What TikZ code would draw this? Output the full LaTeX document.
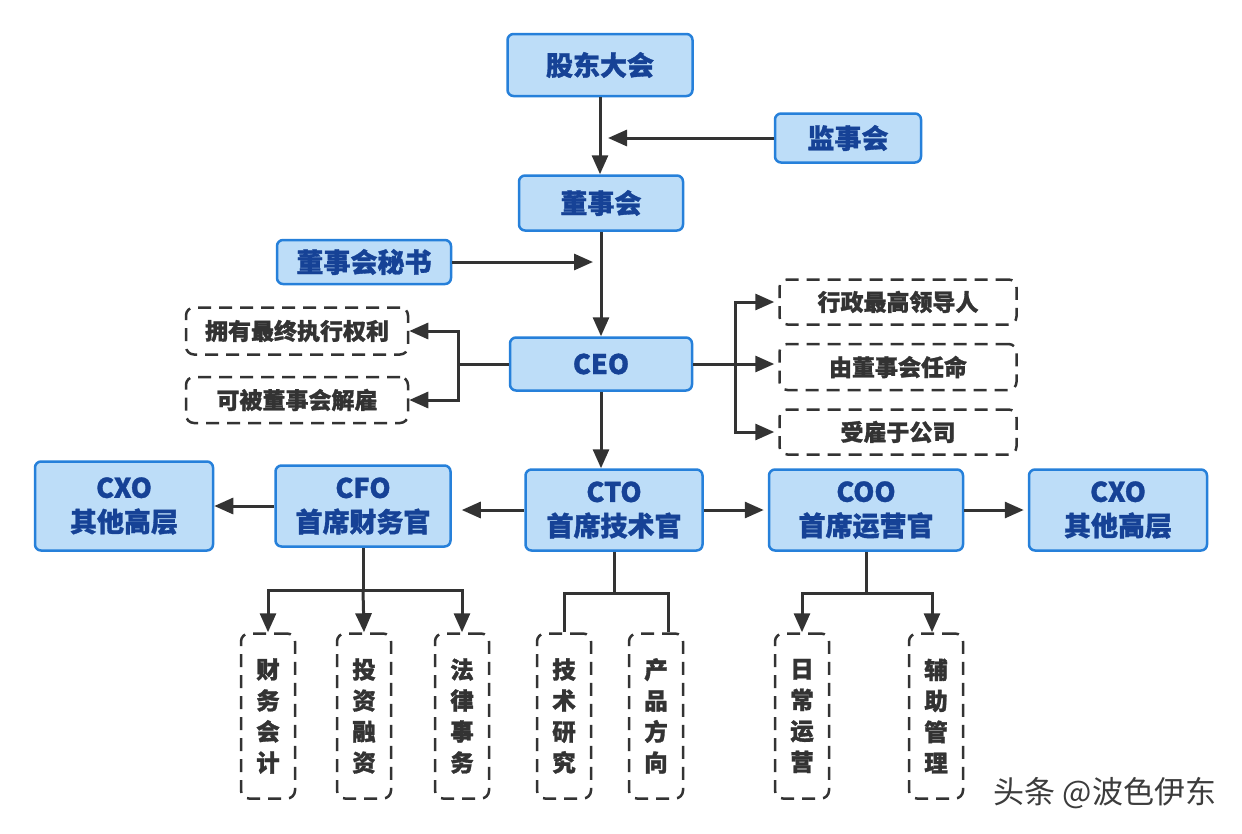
\documentclass[tikz,border=0pt]{standalone}
\usepackage{fontspec}
\setmainfont{Noto Sans CJK SC}[BoldFeatures={FakeBold=1.2}]
\newfontfamily\wmfont{Noto Sans CJK SC}
\usetikzlibrary{arrows.meta}
\definecolor{bfill}{RGB}{189,221,248}
\definecolor{bborder}{RGB}{38,128,218}
\definecolor{btext}{RGB}{22,66,150}
\definecolor{dgray}{RGB}{51,51,51}
\definecolor{wmgray}{RGB}{60,60,60}
\tikzset{
  bluebox/.style={draw=bborder, fill=bfill, line width=2.5pt, rounded corners=6pt,
    text=btext, font=\fontsize{27}{34}\selectfont\bfseries, align=center, inner sep=0pt},
  dashbox/.style={draw=dgray, dash pattern=on 13pt off 8pt, line width=2.5pt, rounded corners=8pt,
    text=dgray, font=\fontsize{23}{27}\selectfont\bfseries, align=center, inner sep=0pt},
  vbox/.style={dashbox, minimum width=54pt, minimum height=165pt, font=\fontsize{23.5}{31}\selectfont\bfseries},
  conn/.style={draw=dgray, line width=3pt},
  arr/.style={conn, -{Triangle[length=19pt,width=16pt]}},
}
\begin{document}
\begin{tikzpicture}[x=1pt,y=-1pt]
\useasboundingbox (0,0) rectangle (1242,833);
\fill[white] (0,0) rectangle (1242,833);

% top chain
\node[bluebox, minimum width=185pt, minimum height=62pt] (gd) at (600,65) {股东大会};
\node[bluebox, minimum width=146pt, minimum height=49pt] (js) at (848,138) {监事会};
\node[bluebox, minimum width=164pt, minimum height=55pt] (ds) at (601,203) {董事会};
\node[bluebox, minimum width=174pt, minimum height=44pt] (ms) at (364,262) {董事会秘书};
\node[bluebox, minimum width=182pt, minimum height=53pt] (ceo) at (601,364) {CEO};

% CEO notes
\node[dashbox, minimum width=222pt, minimum height=47pt] (l1) at (297,331) {拥有最终执行权利};
\node[dashbox, minimum width=222pt, minimum height=46pt] (l2) at (297,400) {可被董事会解雇};
\node[dashbox, minimum width=237pt, minimum height=45pt] (r1) at (898,302) {行政最高领导人};
\node[dashbox, minimum width=237pt, minimum height=46pt] (r2) at (898,367) {由董事会任命};
\node[dashbox, minimum width=237pt, minimum height=45pt] (r3) at (898,432) {受雇于公司};

% executives
\node[bluebox, minimum width=178pt, minimum height=89pt] (cxo1) at (124,506) {CXO\\其他高层};
\node[bluebox, minimum width=175pt, minimum height=81pt] (cfo) at (363,506) {CFO\\首席财务官};
\node[bluebox, minimum width=177pt, minimum height=81pt] (cto) at (614,510) {CTO\\首席技术官};
\node[bluebox, minimum width=194pt, minimum height=81pt] (coo) at (866,510) {COO\\首席运营官};
\node[bluebox, minimum width=178pt, minimum height=81pt] (cxo2) at (1118,510) {CXO\\其他高层};

% bottom departments
\node[vbox] (b1) at (268,716) {财\\务\\会\\计};
\node[vbox] (b2) at (364,716) {投\\资\\融\\资};
\node[vbox] (b3) at (462,716) {法\\律\\事\\务};
\node[vbox] (b4) at (564,716) {技\\术\\研\\究};
\node[vbox] (b5) at (656,716) {产\\品\\方\\向};
\node[vbox] (b6) at (802,716) {日\\常\\运\\营};
\node[vbox] (b7) at (936,716) {辅\\助\\管\\理};

% coordinates
\coordinate (jsend) at (608,138);
\coordinate (msend) at (593,262);
\coordinate (lj) at (458,364);
\coordinate (rj) at (735,364);
\coordinate (cfoj) at (363,590);
\coordinate (ctoj) at (614,593);
\coordinate (cooj) at (866,593);

% connectors top
\draw[arr] (gd.south) -- (gd.south |- ds.north);
\draw[arr] (js.west) -- (jsend);
\draw[arr] (ds.south) -- (ds.south |- ceo.north);
\draw[arr] (ms.east) -- (msend);

% CEO notes connectors
\draw[conn] (ceo.west) -- (lj);
\draw[arr] (lj) |- (l1.east);
\draw[arr] (lj) |- (l2.east);
\draw[conn] (ceo.east) -- (rj);
\draw[arr] (rj) |- ([xshift=-4pt]r1.west);
\draw[arr] (rj) -- ([xshift=-4pt]r2.west |- rj);
\draw[arr] (rj) |- ([xshift=-4pt]r3.west);
\draw[arr] (ceo.south) -- (ceo.south |- cto.north);

% executives
\draw[arr] (cto.west) -- ([xshift=10pt]cfo.east |- cto.west);
\draw[arr] (cfo.west) -- (cxo1.east |- cfo.west);
\draw[arr] (cto.east) -- ([xshift=-4pt]coo.west);
\draw[arr] (coo.east) -- ([xshift=-4pt]cxo2.west);

% CFO tree
\draw[conn] (cfo.south) -- (cfoj);
\draw[arr] (cfoj) -| (b1.north);
\draw[arr] (cfoj) -- (b2.north);
\draw[arr] (cfoj) -| (b3.north);

% CTO tree
\draw[conn] (cto.south) -- (ctoj);
\draw[conn] (ctoj) -| (b4.north);
\draw[conn] (ctoj) -| ([xshift=12pt]b5.north);

% COO tree
\draw[conn] (coo.south) -- (cooj);
\draw[arr] (cooj) -| (b6.north);
\draw[arr] (cooj) -| ([xshift=-4pt]b7.north);

% watermark
\node[text=wmgray, font=\wmfont\fontsize{31}{33}\selectfont, inner sep=0pt] (wm) at (1105,793) {头条 @波色伊东};
\end{tikzpicture}
\end{document}
